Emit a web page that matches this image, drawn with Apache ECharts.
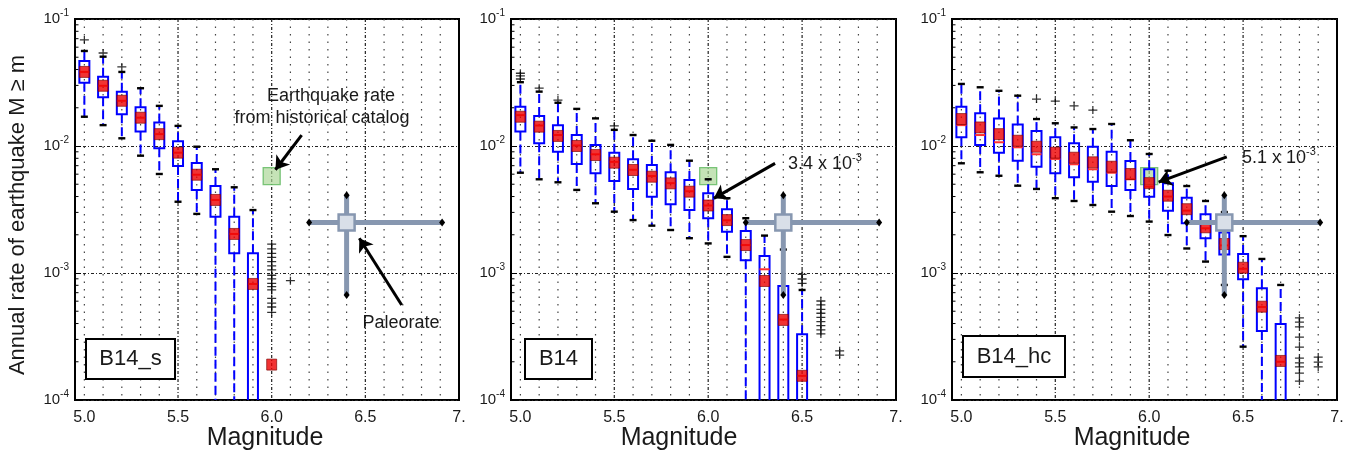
<!DOCTYPE html>
<html>
<head>
<meta charset="utf-8">
<script src="https://cdn.jsdelivr.net/npm/echarts@6/dist/echarts.min.js"></script>
<style>
  html, body { margin: 0; padding: 0; background: #fff; }
  #chart { width: 1352px; height: 453px; }
</style>
</head>
<body>
<div id="chart"></div>
<script>
// ---- axis ranges and ticks ----
const X_MIN = 4.95, X_MAX = 7.0, Y_MIN = 1e-4, Y_MAX = 1e-1;
const xTickValues = [5.0, 5.5, 6.0, 6.5, 7.0];
const xTickLabels = ['5.0', '5.5', '6.0', '6.5', '7.'];
const gridMinorMags = [5.0, 5.1, 5.2, 5.3, 5.4, 5.6, 5.7, 5.8, 5.9, 6.1, 6.2, 6.3, 6.4, 6.6, 6.7, 6.8, 6.9];
const gridMajorMags = [5.5, 6.0, 6.5];
const yMinorTicks = [2e-4, 3e-4, 4e-4, 5e-4, 6e-4, 7e-4, 8e-4, 9e-4,
                     2e-3, 3e-3, 4e-3, 5e-3, 6e-3, 7e-3, 8e-3, 9e-3,
                     2e-2, 3e-2, 4e-2, 5e-2, 6e-2, 7e-2, 8e-2, 9e-2];

// ---- shared reference points ----
const histMag = 6.0, histRate = 5.8e-3;            // historical catalog rate
const paleoMag = 6.4, paleoMagLo = 6.2, paleoMagHi = 6.91;
const paleoRate = 2.5e-3, paleoRateLo = 6.7e-4, paleoRateHi = 4.1e-3;

// ---- B14_s ----
const sBoxMag    = [5.0, 5.1, 5.2, 5.3, 5.4, 5.5, 5.6, 5.7, 5.8, 5.9];
const sWhiskerHi = [0.0560, 0.0505, 0.0383, 0.0285, 0.0207, 0.0144, 0.00987, 0.00656, 0.00473, 0.00313];
const sQ3        = [0.0467, 0.0351, 0.0268, 0.0202, 0.0153, 0.0109, 0.00735, 0.00484, 0.00277, 0.00143];
const sMedian    = [0.0383, 0.0298, 0.0227, 0.0167, 0.0124, 0.00886, 0.00594, 0.00376, 0.00203, 0.00082];
const sQ1        = [0.0315, 0.0242, 0.0178, 0.0130, 0.00959, 0.00696, 0.00451, 0.00277, 0.00143, 0.00003];
const sWhiskerLo = [0.0170, 0.0146, 0.0115, 0.00839, 0.00602, 0.00364, 0.00292, 0.00002, 0.00002, 0.00001];
const sMeanMag   = [5.0, 5.1, 5.2, 5.3, 5.4, 5.5, 5.6, 5.7, 5.8, 5.9, 6.0];
const sMean      = [0.0383, 0.0298, 0.0227, 0.0167, 0.0124, 0.00886, 0.00594, 0.00376, 0.00203, 0.00082, 0.00019];
const sOutliers  = [[5.0, 0.0684], [5.1, 0.0540], [5.2, 0.0419],
  [6.0, 0.00169], [6.0, 0.00155], [6.0, 0.00143], [6.0, 0.00133], [6.0, 0.00123], [6.0, 0.00114],
  [6.0, 0.00106], [6.0, 0.00096], [6.0, 0.00090], [6.0, 0.00083], [6.0, 0.00078], [6.0, 0.000735],
  [6.0, 0.00063], [6.0, 0.00058], [6.0, 0.00054], [6.0, 0.00049], [6.1, 0.00087]];

// ---- B14 ----
const bBoxMag    = [5.0, 5.1, 5.2, 5.3, 5.4, 5.5, 5.6, 5.7, 5.8, 5.9, 6.0, 6.1, 6.2, 6.3, 6.4, 6.5];
const bWhiskerHi = [0.0318, 0.0268, 0.0219, 0.0196, 0.0165, 0.0134, 0.0122, 0.0110, 0.0102, 0.00766, 0.00547, 0.00388, 0.00270, 0.00197, 0.00153, 0.000735];
const bQ3        = [0.0204, 0.0172, 0.0146, 0.0122, 0.0102, 0.00886, 0.00786, 0.00708, 0.00621, 0.00540, 0.00425, 0.00318, 0.00214, 0.00136, 0.000791, 0.000329];
const bMedian    = [0.0175, 0.0145, 0.0122, 0.0101, 0.0086, 0.0075, 0.0065, 0.0058, 0.0051, 0.0044, 0.0034, 0.0026, 0.00166, 0.00107, 0.00043, 0.000155];
const bQ1        = [0.0130, 0.0105, 0.00902, 0.00722, 0.00610, 0.00530, 0.00459, 0.00399, 0.00348, 0.00313, 0.00270, 0.00211, 0.00126, 0.00003, 0.00003, 0.00002];
const bWhiskerLo = [0.00616, 0.00547, 0.00518, 0.00451, 0.00354, 0.00304, 0.00261, 0.00236, 0.00218, 0.00188, 0.00171, 0.00134, 0.00002, 0.00001, 0.00001, 0.00001];
const bMeanMag   = [5.0, 5.1, 5.2, 5.3, 5.4, 5.5, 5.6, 5.7, 5.8, 5.9, 6.0, 6.1, 6.2, 6.3, 6.4, 6.5];
const bMean      = [0.0170, 0.0142, 0.0120, 0.0100, 0.00849, 0.00739, 0.00647, 0.00573, 0.00508, 0.00437, 0.0034, 0.00261, 0.00166, 0.000865, 0.000427, 0.000155];
const bOutliers  = [[5.0, 0.0374], [5.0, 0.0356], [5.0, 0.0337], [5.1, 0.0285], [5.2, 0.0230], [5.5, 0.0144],
  [6.5, 0.000977], [6.5, 0.000897], [6.5, 0.000829],
  [6.6, 0.000602], [6.6, 0.000560], [6.6, 0.000518], [6.6, 0.000482], [6.6, 0.000448],
  [6.6, 0.000414], [6.6, 0.000385], [6.6, 0.000356], [6.6, 0.000331],
  [6.7, 0.000244], [6.7, 0.000226]];

// ---- B14_hc ----
const hBoxMag    = [5.0, 5.1, 5.2, 5.3, 5.4, 5.5, 5.6, 5.7, 5.8, 5.9, 6.0, 6.1, 6.2, 6.3, 6.4, 6.5, 6.6, 6.7];
const hWhiskerHi = [0.0308, 0.0290, 0.0272, 0.0249, 0.0163, 0.0151, 0.0140, 0.0136, 0.0149, 0.0111, 0.00865, 0.00639, 0.00484, 0.00369, 0.00302, 0.00195, 0.00129, 0.000805];
const hQ3        = [0.0204, 0.0181, 0.0165, 0.0148, 0.0131, 0.0117, 0.0105, 0.00987, 0.00902, 0.00762, 0.00656, 0.00508, 0.00392, 0.00290, 0.00208, 0.00141, 0.000758, 0.000397];
const hMedian    = [0.0146, 0.0122, 0.0107, 0.00977, 0.00861, 0.00791, 0.00718, 0.00656, 0.00616, 0.00547, 0.00479, 0.00400, 0.00310, 0.00225, 0.00165, 0.00108, 0.00054, 0.00020];
const hQ1        = [0.0117, 0.0102, 0.00886, 0.00766, 0.00687, 0.00610, 0.00567, 0.00524, 0.00484, 0.00451, 0.00399, 0.00309, 0.00246, 0.00188, 0.00140, 0.000891, 0.000349, 0.00003];
const hWhiskerLo = [0.00731, 0.00621, 0.00583, 0.00487, 0.00459, 0.00388, 0.00369, 0.00343, 0.00304, 0.00281, 0.00254, 0.00199, 0.00156, 0.00123, 0.000805, 0.000263, 0.00001, 0.00001];
const hMeanMag   = [5.0, 5.1, 5.2, 5.3, 5.4, 5.5, 5.6, 5.7, 5.8, 5.9, 6.0, 6.1, 6.2, 6.3, 6.4, 6.5, 6.6, 6.7];
const hMean      = [0.0163, 0.0140, 0.0124, 0.0110, 0.00987, 0.00886, 0.00809, 0.00744, 0.00687, 0.00602, 0.0051, 0.00406, 0.00318, 0.00229, 0.00169, 0.00110, 0.000543, 0.000203];
const hOutliers  = [[5.4, 0.0234], [5.5, 0.0226], [5.6, 0.0207], [5.7, 0.0192],
  [6.8, 0.000443], [6.8, 0.000411], [6.8, 0.000376], [6.8, 0.000313], [6.8, 0.000261],
  [6.8, 0.000214], [6.8, 0.000196], [6.8, 0.000182], [6.8, 0.000163], [6.8, 0.000141],
  [6.9, 0.000218], [6.9, 0.000199], [6.9, 0.000182]];

// ---- layout and style ----
const FONT = '"Liberation Sans", Arial, sans-serif';
const TEXT = '#1a1a1a';
const BLUE = '#0000ff';
const panels = [
  { name: 'B14_s', left: 75, width: 384, boxMag: sBoxMag, lo: sWhiskerLo, q1: sQ1, med: sMedian, q3: sQ3, hi: sWhiskerHi,
    meanMag: sMeanMag, mean: sMean, outliers: sOutliers,
    label: { x: 86, y: 339, w: 89, h: 40 }, xTitle: 265,
    arrows: [[6.16, 1.22e-2, 6.02, 6.5e-3], [6.694, 5.6e-4, 6.468, 1.88e-3]] },
  { name: 'B14', left: 511, width: 385, boxMag: bBoxMag, lo: bWhiskerLo, q1: bQ1, med: bMedian, q3: bQ3, hi: bWhiskerHi,
    meanMag: bMeanMag, mean: bMean, outliers: bOutliers,
    label: { x: 525, y: 339, w: 67, h: 40 }, xTitle: 679,
    arrows: [[6.356, 7.3e-3, 6.03, 3.87e-3]] },
  { name: 'B14_hc', left: 952, width: 385, boxMag: hBoxMag, lo: hWhiskerLo, q1: hQ1, med: hMedian, q3: hQ3, hi: hWhiskerHi,
    meanMag: hMeanMag, mean: hMean, outliers: hOutliers,
    label: { x: 963, y: 336, w: 102, h: 41 }, xTitle: 1132,
    arrows: [[6.413, 8.2e-3, 6.05, 5.2e-3]] }
];

// "+" marker for outliers
const PLUS = 'path://M0,4.2H10V5.8H0Z M4.3,0H5.7V10H4.3Z';

function yLabel(v) {
  const e = Math.round(Math.log10(v));
  return '{b|10}{s|' + e + '}';
}
function xLabel(v) {
  const i = xTickValues.findIndex(t => Math.abs(t - v) < 1e-9);
  return i >= 0 ? xTickLabels[i] : '';
}

const grids = [], xAxes = [], yAxes = [], series = [], graphics = [];

panels.forEach((p, i) => {
  grids.push({ left: p.left, top: 19, width: p.width, height: 381, show: true,
               borderColor: '#000', borderWidth: 2, backgroundColor: 'transparent' });
  xAxes.push({
    type: 'value', gridIndex: i, min: X_MIN, max: X_MAX,
    axisLine: { show: false }, axisTick: { show: false }, splitLine: { show: false },
    axisLabel: { customValues: xTickValues, formatter: xLabel, margin: 10,
                 fontSize: 16, color: TEXT, fontFamily: FONT }
  });
  yAxes.push({
    type: 'log', logBase: 10, gridIndex: i, min: Y_MIN, max: Y_MAX,
    axisLine: { show: false },
    axisTick: { show: true, inside: true, length: 6, lineStyle: { color: '#000', width: 1 } },
    splitLine: { show: true, lineStyle: { color: '#222', width: 1.2, type: [3, 2, 1, 2] } },
    axisLabel: {
      formatter: yLabel, margin: 6,
      rich: {
        b: { fontSize: 15, color: TEXT, fontFamily: FONT, lineHeight: 22 },
        s: { fontSize: 10, color: TEXT, fontFamily: FONT, verticalAlign: 'top', lineHeight: 12 }
      }
    }
  });

  // vertical dotted grid
  series.push({
    type: 'custom', xAxisIndex: i, yAxisIndex: i, silent: true, z: 1, clip: true,
    data: gridMinorMags.map(m => [m, 0]).concat(gridMajorMags.map(m => [m, 1])),
    renderItem: (params, api) => {
      const m = api.value(0), major = api.value(1) === 1;
      const a = api.coord([m, Y_MAX]), b = api.coord([m, Y_MIN]);
      return { type: 'line', shape: { x1: a[0], y1: a[1], x2: b[0], y2: b[1] },
        style: major ? { stroke: '#222', lineWidth: 1.2, lineDash: [3, 2, 1, 2] }
                     : { stroke: '#444', lineWidth: 1.2, lineDash: [1.5, 6] } };
    }
  });

  // minor log ticks on the left edge
  series.push({
    type: 'custom', xAxisIndex: i, yAxisIndex: i, silent: true, z: 1,
    data: yMinorTicks.map(v => [X_MIN, v]),
    renderItem: (params, api) => {
      const a = api.coord([api.value(0), api.value(1)]);
      return { type: 'line', shape: { x1: a[0], y1: a[1], x2: a[0] + 3.5, y2: a[1] },
               style: { stroke: '#000', lineWidth: 1 } };
    }
  });

  // historical catalog rate
  series.push({
    type: 'scatter', xAxisIndex: i, yAxisIndex: i, z: 2, silent: true,
    symbol: 'rect', symbolSize: 17,
    itemStyle: { color: 'rgba(170,214,150,0.85)', borderColor: '#5cb85c', borderWidth: 1.3 },
    data: [[histMag, histRate]]
  });

  // boxes, whiskers, medians and caps
  series.push({
    type: 'custom', xAxisIndex: i, yAxisIndex: i, z: 3, silent: true, clip: true,
    data: p.boxMag.map((m, k) => [m, p.lo[k], p.q1[k], p.med[k], p.q3[k], p.hi[k]]),
    renderItem: (params, api) => {
      const cs = params.coordSys;
      const bottom = cs.y + cs.height + 8;
      const m = api.value(0);
      const Y = k => Math.min(api.coord([m, api.value(k)])[1], bottom);
      const x = api.coord([m, api.value(3)])[0];
      const yLo = Y(1), yQ1 = Y(2), yMed = Y(3), yQ3 = Y(4), yHi = Y(5);
      const hw = 5, cw = 3.5;
      const dash = { stroke: BLUE, lineWidth: 2, lineDash: [9, 4] };
      return { type: 'group', children: [
        { type: 'line', shape: { x1: x, y1: yQ3, x2: x, y2: yHi }, style: dash },
        { type: 'line', shape: { x1: x, y1: yQ1, x2: x, y2: yLo }, style: dash },
        { type: 'line', shape: { x1: x - cw, y1: yHi, x2: x + cw, y2: yHi }, style: { stroke: '#000', lineWidth: 2.4 } },
        { type: 'line', shape: { x1: x - cw, y1: yLo, x2: x + cw, y2: yLo }, style: { stroke: '#000', lineWidth: 2.4 } },
        { type: 'rect', shape: { x: x - hw, y: yQ3, width: 2 * hw, height: yQ1 - yQ3 },
          style: { fill: 'none', stroke: BLUE, lineWidth: 2 } },
        { type: 'line', shape: { x1: x - hw, y1: yMed, x2: x + hw, y2: yMed }, style: { stroke: '#ff3030', lineWidth: 2 } }
      ] };
    }
  });

  // outliers
  series.push({
    type: 'scatter', xAxisIndex: i, yAxisIndex: i, z: 4, silent: true,
    symbol: PLUS, symbolSize: [9, 8], itemStyle: { color: '#000' },
    data: p.outliers
  });

  // means, plus the annotation arrows
  series.push({
    type: 'scatter', xAxisIndex: i, yAxisIndex: i, z: 5, silent: true,
    symbol: 'rect', symbolSize: [10, 11],
    itemStyle: { color: '#ee0000', borderColor: '#7a0000', borderWidth: 0.8 },
    data: p.meanMag.map((m, k) => [m, p.mean[k]]),
    markLine: {
      silent: true, animation: false, symbol: ['none', 'arrow'], symbolSize: 13,
      label: { show: false },
      lineStyle: { color: '#000', width: 3, type: 'solid' },
      emphasis: { disabled: true },
      data: p.arrows.map(a => [{ coord: [a[0], a[1]] }, { coord: [a[2], a[3]] }])
    }
  });

  // paleorate with its ranges
  series.push({
    type: 'custom', xAxisIndex: i, yAxisIndex: i, z: 6, silent: true,
    data: [[paleoMag, paleoRate, paleoMagLo, paleoMagHi, paleoRateLo, paleoRateHi]],
    renderItem: (params, api) => {
      const c = api.coord([api.value(0), api.value(1)]);
      const l = api.coord([api.value(2), api.value(1)]);
      const r = api.coord([api.value(3), api.value(1)]);
      const lo = api.coord([api.value(0), api.value(4)]);
      const hi = api.coord([api.value(0), api.value(5)]);
      const bar = { stroke: '#8797b0', lineWidth: 5 };
      const diamond = (pt) => ({ type: 'polygon',
        shape: { points: [[pt[0], pt[1] - 4], [pt[0] + 3, pt[1]], [pt[0], pt[1] + 4], [pt[0] - 3, pt[1]]] },
        style: { fill: '#000' } });
      return { type: 'group', children: [
        { type: 'line', shape: { x1: l[0], y1: l[1], x2: r[0], y2: r[1] }, style: bar },
        { type: 'line', shape: { x1: hi[0], y1: hi[1], x2: lo[0], y2: lo[1] }, style: bar },
        diamond(l), diamond(r), diamond(lo), diamond(hi),
        { type: 'rect', shape: { x: c[0] - 8, y: c[1] - 8, width: 16, height: 16 },
          style: { fill: '#d9dfe8', stroke: '#8797b0', lineWidth: 2.5 } }
      ] };
    }
  });

  // panel name box
  graphics.push({ type: 'rect', z: 100,
    shape: { x: p.label.x, y: p.label.y, width: p.label.w, height: p.label.h },
    style: { fill: '#fff', stroke: '#000', lineWidth: 2 } });
  graphics.push({ type: 'text', z: 101, x: p.label.x + p.label.w / 2, y: p.label.y + p.label.h / 2,
    style: { text: p.name, fontSize: 22, fontFamily: FONT, fill: TEXT, align: 'center', verticalAlign: 'middle' } });

  // axis title
  graphics.push({ type: 'text', z: 101, x: p.xTitle, y: 438,
    style: { text: 'Magnitude', fontSize: 25, fontFamily: FONT, fill: TEXT, align: 'center', verticalAlign: 'middle' } });
});

graphics.push({ type: 'text', z: 101, x: 18, y: 215, rotation: Math.PI / 2,
  style: { text: 'Annual rate of earthquake M \u2265 m', fontSize: 22, fontFamily: FONT, fill: TEXT,
           align: 'center', verticalAlign: 'middle' } });
graphics.push({ type: 'text', z: 101, x: 331, y: 96,
  style: { text: 'Earthquake rate', fontSize: 18, fontFamily: FONT, fill: TEXT, align: 'center', verticalAlign: 'middle' } });
graphics.push({ type: 'text', z: 101, x: 322, y: 118,
  style: { text: 'from historical catalog', fontSize: 18, fontFamily: FONT, fill: TEXT, align: 'center', verticalAlign: 'middle' } });
graphics.push({ type: 'text', z: 101, x: 401, y: 323,
  style: { text: 'Paleorate', fontSize: 18, fontFamily: FONT, fill: TEXT, align: 'center', verticalAlign: 'middle' } });
const supRich = {
  n: { fontSize: 18, fontFamily: FONT, fill: TEXT, lineHeight: 24 },
  s: { fontSize: 11, fontFamily: FONT, fill: TEXT, verticalAlign: 'top', lineHeight: 13 }
};
graphics.push({ type: 'text', z: 101, x: 788, y: 164,
  style: { text: '{n|3.4 x 10}{s|-3}', rich: supRich, align: 'left', verticalAlign: 'middle' } });
graphics.push({ type: 'text', z: 101, x: 1242, y: 158,
  style: { text: '{n|5.1 x 10}{s|-3}', rich: supRich, align: 'left', verticalAlign: 'middle' } });

const chart = echarts.init(document.getElementById('chart'), null, { renderer: 'canvas' });
chart.setOption({
  animation: false,
  backgroundColor: '#fff',
  grid: grids,
  xAxis: xAxes,
  yAxis: yAxes,
  series: series,
  graphic: { elements: graphics }
});
</script>
</body>
</html>
